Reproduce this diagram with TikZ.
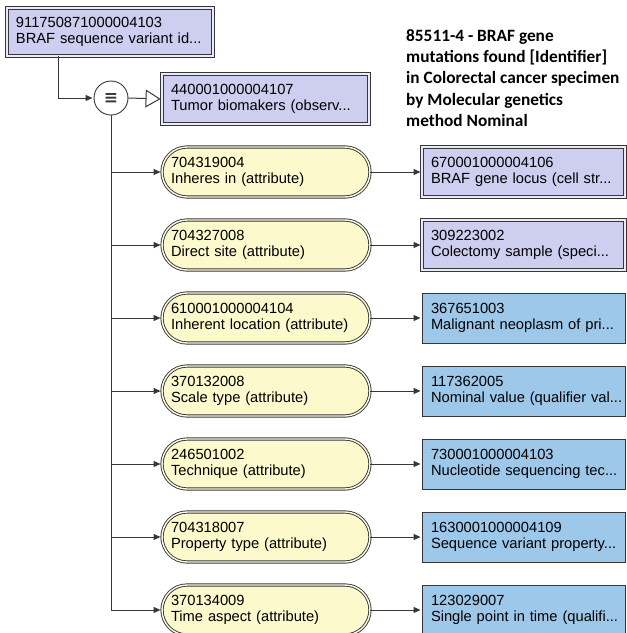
\documentclass[tikz,border=0pt]{standalone}
\usepackage{fontspec}
\setmainfont{Liberation Sans}
\newfontfamily\titlefont{Carlito}
\newfontfamily\symfont{DejaVu Sans}
\usetikzlibrary{arrows.meta,calc}
\definecolor{lav}{RGB}{206,206,240}
\definecolor{pillc}{RGB}{252,249,205}
\definecolor{bluec}{RGB}{158,200,234}
\definecolor{edge}{RGB}{55,55,55}
\newcommand{\twol}[2]{\mbox{#1}\\\mbox{#2}}
\begin{document}
\begin{tikzpicture}[x=1pt,y=-1pt,
  txt/.style={font=\fontsize{14.7}{16.5}\selectfont, align=left, inner xsep=9pt, inner ysep=0pt, minimum height=50pt},
  lavbox/.style={txt, rectangle, draw=edge, line width=0.9pt, double=lav!45!white, double distance=1.4pt, fill=lav},
  pill/.style={txt, rectangle, rounded corners=25pt, draw=edge, line width=0.9pt, double=pillc!50!white, double distance=1.4pt, fill=pillc, text width=190pt},
  bluebox/.style={txt, rectangle, draw=edge, line width=0.9pt, fill=bluec, text width=185pt},
  rlav/.style={lavbox, text width=185pt},
  arr/.style={draw=edge, line width=1pt, -{Triangle[length=7pt,width=6pt]}, shorten >=1pt},
  conn/.style={draw=edge, line width=1pt}
]
\useasboundingbox (0,0) rectangle (627,633);

\node[lavbox, text width=188pt, minimum height=48pt] (top) at (110,32) {\twol{911750871000004103}{BRAF sequence variant id...}};
\node[circle, draw=edge, fill=white, minimum size=34pt, inner sep=0pt, line width=0.9pt, font=\symfont\bfseries\fontsize{17}{17}\selectfont, text=edge] (hub) at (111,98) {≡};
\node[lavbox, text width=189pt] (tumor) at (265.5,99) {\twol{440001000004107}{Tumor biomakers (observ...}};

\node[font=\titlefont\bfseries\fontsize{17.3}{21.4}\selectfont, align=left, anchor=north west, inner sep=0pt] (title) at (406,29)
  {85511-4 - BRAF gene\\mutations found [Identifier]\\in Colorectal cancer specimen\\by Molecular genetics\\method Nominal};

\node[pill] (p1) at (266,172) {\twol{704319004}{Inheres in (attribute)}};
\node[pill] (p2) at (266,245) {\twol{704327008}{Direct site (attribute)}};
\node[pill] (p3) at (266,318) {\twol{610001000004104}{Inherent location (attribute)}};
\node[pill] (p4) at (266,391) {\twol{370132008}{Scale type (attribute)}};
\node[pill] (p5) at (266,464) {\twol{246501002}{Technique (attribute)}};
\node[pill] (p6) at (266,537) {\twol{704318007}{Property type (attribute)}};
\node[pill] (p7) at (266,610) {\twol{370134009}{Time aspect (attribute)}};

\node[rlav] (r1) at (523.5,172) {\twol{670001000004106}{BRAF gene locus (cell str...}};
\node[rlav] (r2) at (523.5,245) {\twol{309223002}{Colectomy sample (speci...}};
\node[bluebox] (r3) at (523.5,318) {\twol{367651003}{Malignant neoplasm of pri...}};
\node[bluebox] (r4) at (523.5,391) {\twol{117362005}{Nominal value (qualifier val...}};
\node[bluebox] (r5) at (523.5,464) {\twol{730001000004103}{Nucleotide sequencing tec...}};
\node[bluebox] (r6) at (523.5,537) {\twol{1630001000004109}{Sequence variant property...}};
\node[bluebox] (r7) at (523.5,610) {\twol{123029007}{Single point in time (qualifi...}};

\draw[arr] ($(top.south west)!0.25!(top.south east)$) |- (hub.west);
\draw[conn, -{Triangle[open,length=15pt,width=18pt,fill=white]}, shorten >=1pt] (hub.east) -- (tumor.west);
\draw[arr] (hub.south) |- (p7.west);
\foreach \i in {1,...,6} \draw[arr] (hub.south |- p\i.west) -- (p\i.west);
\foreach \i in {1,...,7} \draw[arr] (p\i.east) -- (r\i.west);
\end{tikzpicture}
\end{document}
